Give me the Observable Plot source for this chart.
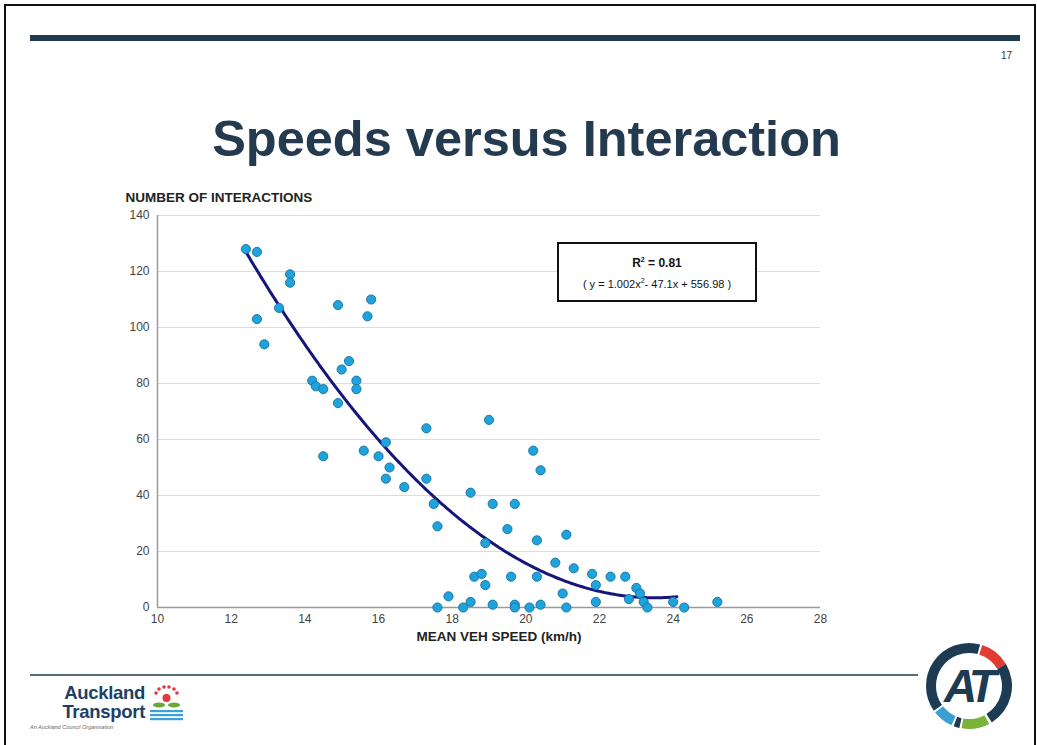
<!DOCTYPE html>
<html><head><meta charset="utf-8">
<script src="https://cdn.jsdelivr.net/npm/d3@7"></script>
<script src="https://cdn.jsdelivr.net/npm/@observablehq/plot@0.6"></script>
<style>
body{margin:0;background:#fff;font-family:"Liberation Sans",Arial,sans-serif;}
#page{position:relative;width:1037px;height:745px;overflow:hidden;background:#fff;}
#chart{position:absolute;left:100px;top:180px;}
#overlay{position:absolute;left:0;top:0;pointer-events:none;}
</style></head>
<body>
<div id="page">
  <div id="chart"></div>
  <svg id="overlay" width="1037" height="745" font-family="Liberation Sans, Arial, sans-serif">
    <!-- page frame -->
    <path d="M5,760 V5 H1035 V760" fill="none" stroke="#111" stroke-width="2"/>
    <rect x="30" y="35" width="990" height="6" fill="#1f3b4f"/>
    <text x="1012" y="59" font-size="10" text-anchor="end" fill="#333">17</text>
    <text x="526.5" y="156" font-size="50.5" font-weight="bold" text-anchor="middle" fill="#243a4e">Speeds versus Interaction</text>
    <!-- equation box -->
    <rect x="558" y="243" width="198" height="58" fill="#fff" stroke="#111" stroke-width="2"/>
    <text x="657" y="267" font-size="12" font-weight="bold" text-anchor="middle" fill="#111">R<tspan font-size="7" dy="-5">2</tspan><tspan dy="5"> = 0.81</tspan></text>
    <text x="657" y="288" font-size="11" text-anchor="middle" fill="#111">( y = 1.002x<tspan font-size="7" dy="-5">2</tspan><tspan dy="5">- 47.1x + 556.98 )</tspan></text>
    <!-- bottom rule -->
    <line x1="30" y1="675" x2="918" y2="675" stroke="#1f3b4f" stroke-width="1.5"/>
    <!-- Auckland Transport logo -->
    <text x="145" y="699" font-size="18.5" font-weight="bold" text-anchor="end" fill="#1e3f66" letter-spacing="-0.3">Auckland</text>
    <text x="145" y="718" font-size="18.5" font-weight="bold" text-anchor="end" fill="#1e3f66" letter-spacing="-0.3">Transport</text>
    <text x="30" y="729" font-size="5.5" font-style="italic" fill="#666">An Auckland Council Organisation</text>
    <g>
      <circle cx="156" cy="693" r="1.8" fill="#e03a3a"/>
      <circle cx="159" cy="689" r="1.8" fill="#e03a3a"/>
      <circle cx="164" cy="687" r="1.8" fill="#e03a3a"/>
      <circle cx="169" cy="687" r="1.8" fill="#e03a3a"/>
      <circle cx="174" cy="689" r="1.8" fill="#e03a3a"/>
      <circle cx="177" cy="693" r="1.8" fill="#e03a3a"/>
      <circle cx="166.5" cy="698" r="4" fill="#e03a3a"/>
      <ellipse cx="159" cy="705" rx="6" ry="2.5" fill="#6aa83a"/>
      <ellipse cx="174" cy="705" rx="6" ry="2.5" fill="#6aa83a"/>
      <rect x="150" y="710" width="33" height="2.2" fill="#3aa0d8"/>
      <rect x="150" y="714" width="33" height="2.2" fill="#3aa0d8"/>
      <rect x="150" y="718" width="33" height="2.2" fill="#3aa0d8"/>
    </g>
    <!-- AT roundel -->
    <g id="roundel"></g>
  </svg>
</div>
<script>
// ---- data ----
const speed = [12.4,12.7,12.7,12.9,13.3,13.6,13.6,14.2,14.3,14.5,14.5,14.9,14.9,15.0,15.2,15.4,15.4,15.7,15.8,15.6,
  16.0,16.2,16.3,16.2,16.7,17.3,17.3,17.5,17.6,17.6,17.9,18.3,18.5,18.5,18.6,18.8,18.9,18.9,19.0,19.1,
  19.1,19.5,19.6,19.7,19.7,19.7,20.1,20.2,20.4,20.3,20.3,20.4,20.8,21.0,21.1,21.1,21.3,21.8,21.9,21.9,
  22.3,22.7,22.8,23.0,23.1,23.2,23.3,24.0,24.3,25.2];
const interactions = [128,127,103,94,107,119,116,81,79,78,54,108,73,85,88,81,78,104,110,56,
  54,59,50,46,43,64,46,37,29,0,4,0,41,2,11,12,8,23,67,37,
  1,28,11,37,1,0,0,56,49,24,11,1,16,5,26,0,14,12,8,2,
  11,11,3,7,5,2,0,2,0,2];
const xTicks = [10,12,14,16,18,20,22,24,26,28];
const yTicks = [0,20,40,60,80,100,120,140];
// trendline as printed on the chart: y = 1.002x^2 - 47.1x + 556.98, drawn over 12.4..24.1
const trendCoefficients = [1.002, -47.1, 556.98];
const trendRange = [12.4, 24.1];

const points = speed.map((s, i) => ({speed: s, n: interactions[i]}));
const trend = d3.range(trendRange[0], trendRange[1] + 1e-9, 0.05).map(x => ({
  speed: x,
  n: trendCoefficients[0] * x * x + trendCoefficients[1] * x + trendCoefficients[2]
}));

const chart = Plot.plot({
  width: 740, height: 475,
  marginLeft: 57, marginTop: 35, marginRight: 20, marginBottom: 48,
  style: {background: "transparent", fontFamily: "Liberation Sans, Arial, sans-serif", overflow: "visible"},
  x: {domain: [10, 28]},
  y: {domain: [0, 140]},
  marks: [
    Plot.ruleY(yTicks.filter(d => d > 0), {stroke: "#dcdcdc", strokeWidth: 1.2}),
    Plot.ruleX([10], {stroke: "#9a9a9a", strokeWidth: 1.5}),
    Plot.ruleY([0], {stroke: "#9a9a9a", strokeWidth: 1.5}),
    Plot.axisY({ticks: yTicks, tickSize: 0, tickPadding: 8, fontSize: 12, fill: "#444", label: null}),
    Plot.axisX({ticks: xTicks, tickSize: 0, tickPadding: 7, fontSize: 12, fill: "#444", label: null}),
    Plot.line(trend, {x: "speed", y: "n", stroke: "#16167a", strokeWidth: 3, curve: "linear"}),
    Plot.dot(points, {x: "speed", y: "n", r: 4.6, fill: "#1ea3dc", stroke: "#1670a3", strokeWidth: 0.9}),
    Plot.text(["NUMBER OF INTERACTIONS"], {frameAnchor: "top-left", dx: -32, dy: -23, textAnchor: "start",
      fontSize: 13.5, fontWeight: "bold", fill: "#222"}),
    Plot.text(["MEAN VEH SPEED (km/h)"], {frameAnchor: "bottom", dx: 10, dy: 33, textAnchor: "middle",
      fontSize: 13.5, fontWeight: "bold", fill: "#222"})
  ]
});
document.getElementById("chart").appendChild(chart);

// AT roundel
const g = d3.select("#roundel");
const cx = 969, cy = 686, r = 38;
const arc = d3.arc().innerRadius(r - 5).outerRadius(r + 5);
const segs = [
  {a0: -31, a1: 58, c: "#1d3b52"},
  {a0: 62, a1: 100, c: "#7ab23a"},
  {a0: 103, a1: 111, c: "#1d3b52"},
  {a0: 114, a1: 142, c: "#3b9fd6"},
  {a0: 145, a1: 285, c: "#1d3b52"},
  {a0: 288, a1: 329, c: "#e23b33"}
];
// convert from svg angle (0 = +x, clockwise) to d3 angle (0 = up, clockwise)
segs.forEach(s => {
  g.append("path")
    .attr("transform", `translate(${cx},${cy})`)
    .attr("d", arc({startAngle: (s.a0 + 90) * Math.PI / 180, endAngle: (s.a1 + 90) * Math.PI / 180}))
    .attr("fill", s.c);
});
g.append("text").attr("x", cx - 1).attr("y", cy + 16).attr("text-anchor", "middle")
  .attr("font-size", 46).attr("font-weight", "bold").attr("font-style", "italic")
  .attr("letter-spacing", -5).attr("fill", "#1d3b52").text("AT");
</script>
</body></html>
